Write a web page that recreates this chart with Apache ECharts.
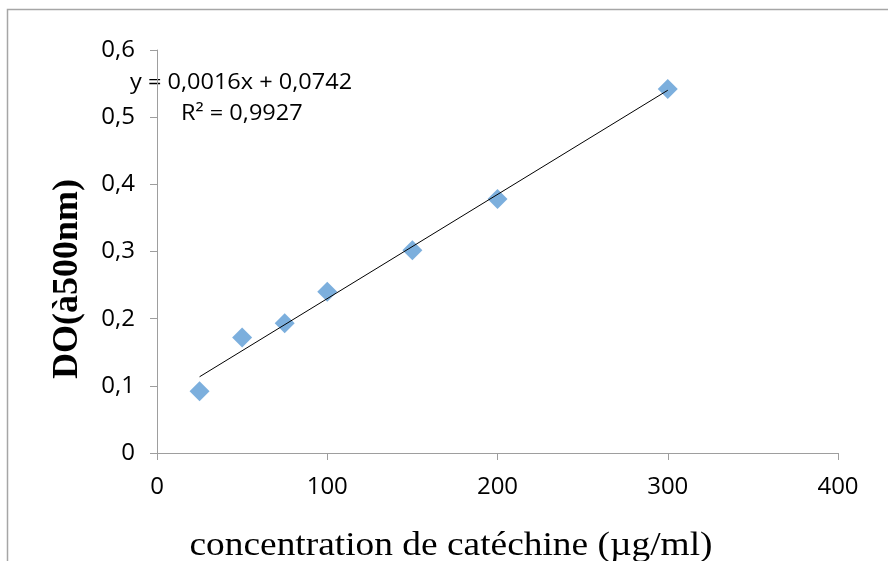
<!DOCTYPE html>
<html>
<head>
<meta charset="utf-8">
<script src="https://cdn.jsdelivr.net/npm/echarts@6/dist/echarts.min.js"></script>
<style>
  html, body { margin: 0; padding: 0; background: #fff; }
  #chart { width: 888px; height: 561px; }
</style>
</head>
<body>
<div id="chart"></div>
<script>
// concentrations (µg/ml) and absorbance
const concentration = [25, 50, 75, 100, 150, 200, 300];
const absorbance = [0.092, 0.172, 0.193, 0.240, 0.302, 0.378, 0.542];
const equationText = "y = 0,0016x + 0,0742";
const r2Text = "R² = 0,9927";

// least squares fit for the trend line
let n = concentration.length;
let mx = concentration.reduce((a, b) => a + b, 0) / n;
let my = absorbance.reduce((a, b) => a + b, 0) / n;
let sxy = 0, sxx = 0;
for (let i = 0; i < n; i++) {
  sxy += (concentration[i] - mx) * (absorbance[i] - my);
  sxx += (concentration[i] - mx) * (concentration[i] - mx);
}
let slope = sxy / sxx;
let intercept = my - slope * mx;
let xFirst = concentration[0], xLast = concentration[n - 1];
let trend = [[xFirst, intercept + slope * xFirst], [xLast, intercept + slope * xLast]];

let chart = echarts.init(document.getElementById("chart"));
const labelFont = { color: "#000", fontFamily: "Open Sans", fontSize: 24 };

chart.setOption({
  animation: false,
  grid: { left: 157, right: 50, top: 50, bottom: 108 },
  xAxis: {
    type: "value",
    min: 0, max: 400, interval: 100,
    splitLine: { show: false },
    axisLine: { lineStyle: { color: "#9e9e9e" } },
    axisTick: { length: 7, lineStyle: { color: "#9e9e9e" } },
    axisLabel: Object.assign({ margin: 22 }, labelFont)
  },
  yAxis: {
    type: "value",
    min: 0, max: 0.6, interval: 0.1,
    splitLine: { show: false },
    axisLine: { show: true, lineStyle: { color: "#9e9e9e" } },
    axisTick: { show: true, length: 7, lineStyle: { color: "#9e9e9e" } },
    axisLabel: Object.assign({
      margin: 22,
      formatter: v => (Math.round(v * 10) / 10).toString().replace(".", ",")
    }, labelFont)
  },
  graphic: [
    {
      type: "rect", silent: true,
      shape: { x: 7.5, y: 9.5, width: 1000, height: 1000 },
      style: { fill: "none", stroke: "#a6a6a6", lineWidth: 1.5 }
    },
    {
      type: "text", x: 130, y: 83, scaleX: 1.12,
      style: { text: equationText, fill: "#000", font: "21px 'Open Sans'", verticalAlign: "middle" }
    },
    {
      type: "text", x: 181, y: 114, scaleX: 1.12,
      style: { text: r2Text, fill: "#000", font: "21px 'Open Sans'", verticalAlign: "middle" }
    },
    {
      type: "text", x: 451, y: 546, scaleX: 1.1,
      style: {
        text: "concentration de catéchine (µg/ml)", fill: "#000",
        font: "34px 'Liberation Serif'", align: "center", verticalAlign: "middle"
      }
    },
    {
      type: "text", x: 68, y: 279, rotation: Math.PI / 2,
      style: {
        text: "DO(à500nm)", fill: "#000",
        font: "bold 36px 'Liberation Serif'", align: "center", verticalAlign: "middle"
      }
    }
  ],
  series: [
    {
      type: "line",
      data: trend,
      symbol: "none",
      lineStyle: { color: "#000", width: 1 },
      z: 3
    },
    {
      type: "scatter",
      data: concentration.map((x, i) => [x, absorbance[i]]),
      symbol: "diamond",
      symbolSize: 20,
      itemStyle: { color: "#5b9bd5" },
      z: 2
    }
  ]
});
</script>
</body>
</html>
